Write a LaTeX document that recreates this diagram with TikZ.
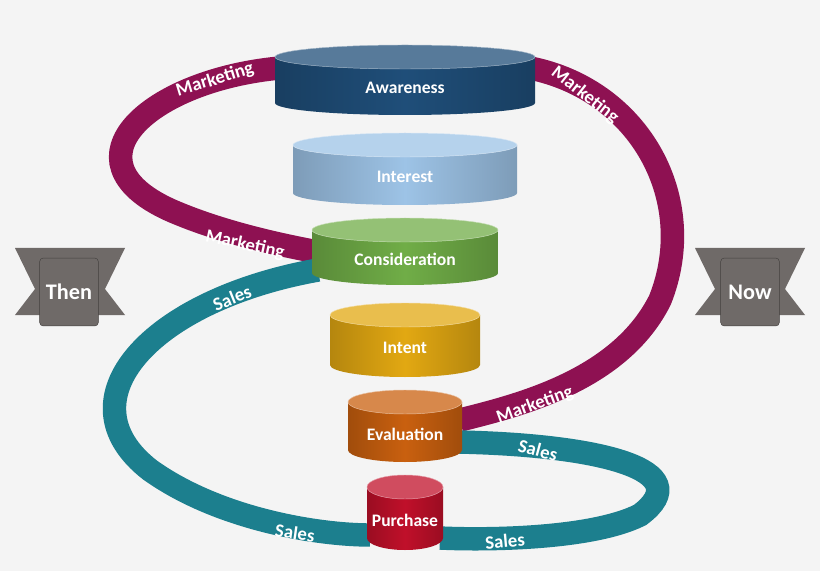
\documentclass[tikz,border=0pt]{standalone}
\usepackage{fontspec}
\setmainfont{Carlito}
\definecolor{bgc}{HTML}{F4F4F4}
\definecolor{mkt}{HTML}{8E1152}
\definecolor{sls}{HTML}{1C7F8E}
\definecolor{awa}{HTML}{1F4E79}
\definecolor{int}{HTML}{9DC3E6}
\definecolor{con}{HTML}{70AD47}
\definecolor{itt}{HTML}{E2A812}
\definecolor{eva}{HTML}{C9600F}
\definecolor{pur}{HTML}{C0102A}
\definecolor{gry}{HTML}{6F6A68}
\tikzset{
  ribbon/.style={line width=20pt,draw=#1},
  rlabel/.style={text=white,font=\bfseries\fontsize{16}{16}\selectfont},
  clabel/.style={text=white,font=\bfseries\fontsize{15}{15}\selectfont},
  sidebox/.style={draw=gry!60!black,fill=gry,rounded corners=3pt,text=white,font=\bfseries\fontsize{19}{19}\selectfont,minimum width=50pt,minimum height=58pt}
}
% cylinder: name, center x, top y, bottom y, half width, colour, label
\newcommand{\cyl}[7]{%
  \shade[left color=#6!80!black,right color=#6!80!black,middle color=#6] (#2-#5,#3) -- (#2-#5,#4) arc[start angle=180,end angle=0,x radius=#5,y radius=12] -- (#2+#5,#3) -- cycle;
  \filldraw[fill=#6!75!white,draw=#6!40!white] (#2,#3) ellipse[x radius=#5,y radius=12];
  \node[clabel] (#1) at (#2,{(#3+#4)/2+8}) {#7};}
\begin{document}
\begin{tikzpicture}[x=0.03cm,y=-0.03cm]
\fill[bgc] (0,0) rectangle (820,571);
% marketing ribbon
\draw[ribbon=mkt] (280,68) .. controls (150,80) and (60,160) .. (170,210)
  .. controls (220,232) and (280,245) .. (318,252);
\draw[ribbon=mkt] (530,68) .. controls (640,90) and (700,200) .. (660,300)
  .. controls (620,380) and (520,405) .. (460,420);
% sales ribbon
\draw[ribbon=sls] (318,270) .. controls (150,300) and (60,400) .. (150,470)
  .. controls (220,520) and (320,535) .. (370,535);
\draw[ribbon=sls] (458,442) .. controls (600,445) and (700,470) .. (640,515)
  .. controls (590,540) and (480,540) .. (440,538);
% cylinders
\cyl{aw}{405}{57}{103}{130}{awa}{Awareness}
\cyl{in}{405}{145}{193}{112}{int}{Interest}
\cyl{co}{405}{230}{273}{93}{con}{Consideration}
\cyl{ie}{405}{315}{365}{75}{itt}{Intent}
\cyl{ev}{405}{402}{450}{57}{eva}{Evaluation}
\cyl{pu}{405}{487}{538}{38}{pur}{Purchase}
% ribbon labels
\node[rlabel,rotate=17] (m1) at (215,80) {Marketing};
\node[rlabel,rotate=-38] (m2) at (585,95) {Marketing};
\node[rlabel,rotate=-12] (m3) at (245,245) {Marketing};
\node[rlabel,rotate=20] (m4) at (535,405) {Marketing};
\node[rlabel,rotate=22] (s1) at (232,298) {Sales};
\node[rlabel,rotate=-15] (s2) at (538,450) {Sales};
\node[rlabel,rotate=-8] (s3) at (295,533) {Sales};
\node[rlabel,rotate=5] (s4) at (505,541) {Sales};
% then / now
\fill[gry] (15,248) -- (125,248) -- (105,289) -- (125,315) -- (15,315) -- (35,289) -- cycle;
\node[sidebox] (then) at (69,292) {Then};
\fill[gry] (695,248) -- (805,248) -- (785,289) -- (805,315) -- (695,315) -- (715,289) -- cycle;
\node[sidebox] (now) at (750,292) {Now};
\end{tikzpicture}
\end{document}
